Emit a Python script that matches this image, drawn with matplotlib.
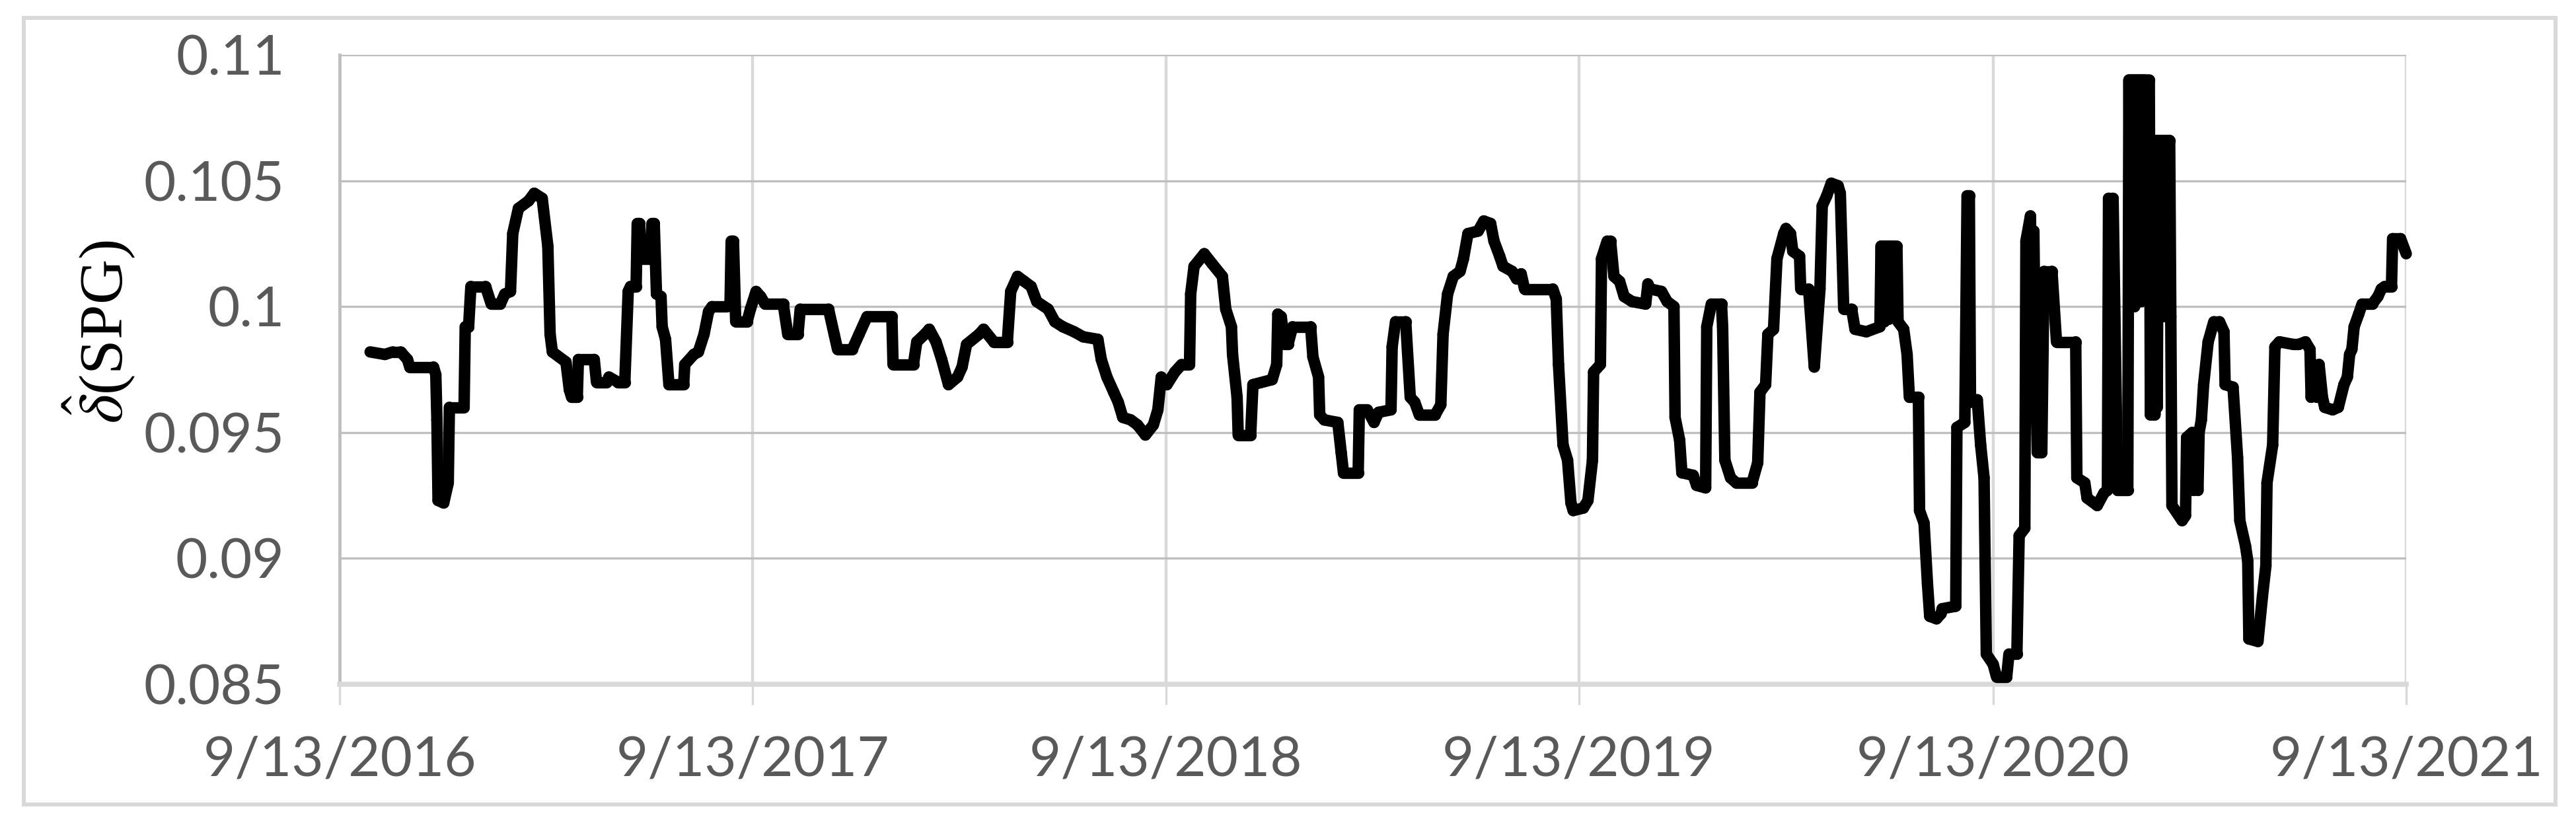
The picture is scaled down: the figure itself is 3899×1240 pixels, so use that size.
import matplotlib
matplotlib.use("Agg")
import matplotlib.pyplot as plt
import matplotlib.dates as mdates
from matplotlib.collections import LineCollection
from matplotlib.patches import Rectangle
import numpy as np
import pandas as pd

plt.rcParams['mathtext.fontset'] = 'stix'
plt.rcParams['path.simplify'] = False

# ---- data ----
start_date = "2016-09-13"
# days since 2016-09-13
day_offsets = [
    27, 40, 47, 54, 60, 62, 83, 85, 86, 87, 92, 96, 97, 110, 111, 114, 116, 129, 134, 142,
    146, 151, 153, 158, 167, 172, 179, 184, 186, 188, 200, 203, 205, 210, 211, 225, 227, 236, 238, 246,
    252, 255, 257, 262, 263, 265, 266, 274, 276, 278, 280, 284, 285, 288, 291, 304, 305, 313, 317, 322,
    326, 329, 342, 345, 346, 348, 350, 360, 363, 368, 372, 376, 392, 396, 405, 407, 432, 437, 440, 453,
    459, 466, 488, 489, 507, 510, 517, 521, 527, 532, 538, 546, 550, 554, 565, 569, 578, 590, 593, 599,
    605, 611, 616, 626, 632, 639, 649, 657, 670, 673, 678, 684, 688, 692, 699, 705, 712, 719, 723, 726,
    731, 738, 744, 751, 752, 755, 764, 771, 780, 783, 788, 789, 793, 794, 805, 807, 824, 828, 829, 832,
    835, 838, 842, 858, 860, 865, 866, 870, 882, 885, 887, 900, 901, 908, 914, 918, 929, 930, 933, 942,
    946, 950, 954, 968, 973, 975, 979, 984, 990, 993, 997, 1006, 1011, 1017, 1020, 1025, 1028, 1036, 1040, 1044,
    1047, 1072, 1075, 1077, 1081, 1085, 1088, 1090, 1099, 1103, 1107, 1108, 1114, 1115, 1120, 1123, 1126, 1131, 1135, 1142,
    1154, 1156, 1158, 1168, 1173, 1179, 1180, 1184, 1186, 1196, 1199, 1207, 1208, 1212, 1221, 1222, 1224, 1229, 1234, 1248,
    1253, 1255, 1260, 1262, 1267, 1270, 1276, 1278, 1282, 1284, 1290, 1291, 1298, 1303, 1308, 1310, 1314, 1318, 1324, 1326,
    1329, 1336, 1339, 1349, 1361,
    1362, 1363, 1364, 1365, 1366, 1367, 1368, 1369, 1370, 1371, 1372, 1373, 1374, 1376,
    1377, 1382, 1385, 1387, 1395, 1396, 1400,
    1403, 1405, 1411, 1415, 1416, 1428, 1429, 1436, 1438, 1440, 1441, 1447, 1450, 1453, 1455, 1461, 1464, 1473, 1475, 1482,
    1484, 1489, 1490, 1494, 1495, 1497, 1498, 1500, 1504, 1506, 1513, 1517, 1534, 1535, 1542, 1544, 1553, 1559, 1562, 1563, 1567,
    1571, 1580,
    1581, 1582, 1583, 1584, 1585, 1586, 1587, 1588, 1589, 1590, 1591, 1592, 1593, 1594, 1595, 1596, 1597, 1599,
    1600, 1601, 1602, 1603, 1604, 1605, 1606, 1607, 1608, 1610, 1611, 1613, 1614, 1616, 1617, 1618,
    1619, 1628, 1631, 1632,
    1637, 1638, 1639, 1642, 1643, 1645, 1647, 1651, 1656, 1661, 1665, 1666, 1673, 1677, 1679, 1684, 1686, 1687, 1695, 1699,
    1702, 1703, 1708, 1710, 1714, 1726, 1731, 1737, 1741, 1742, 1744, 1747, 1749, 1752, 1754, 1761, 1766, 1771, 1774, 1776,
    1778, 1780, 1784, 1787, 1796, 1801, 1804, 1807, 1813, 1814, 1821, 1826,
]
delta_spg = [
    0.0982, 0.0981, 0.0982, 0.0982, 0.0979, 0.0976, 0.0976, 0.0973, 0.0955, 0.0923, 0.0922, 0.0930, 0.0960, 0.0960, 0.0992, 0.0992, 0.1008, 0.1008, 0.1001, 0.1001,
    0.1005, 0.1006, 0.1029, 0.1039, 0.1042, 0.1045, 0.1043, 0.1024, 0.0989, 0.0982, 0.0978, 0.0967, 0.0964, 0.0964, 0.0979, 0.0979, 0.0970, 0.0970, 0.0972, 0.0970,
    0.0970, 0.1006, 0.1008, 0.1008, 0.1033, 0.1033, 0.1019, 0.1019, 0.1033, 0.1033, 0.1005, 0.1004, 0.0992, 0.0987, 0.0969, 0.0969, 0.0977, 0.0981, 0.0982, 0.0989,
    0.0998, 0.1000, 0.1000, 0.1001, 0.1026, 0.1026, 0.0994, 0.0994, 0.0999, 0.1006, 0.1004, 0.1001, 0.1001, 0.0989, 0.0989, 0.0999, 0.0999, 0.0989, 0.0983, 0.0983,
    0.0989, 0.0996, 0.0996, 0.0977, 0.0977, 0.0986, 0.0989, 0.0991, 0.0986, 0.0979, 0.0969, 0.0972, 0.0976, 0.0985, 0.0989, 0.0991, 0.0986, 0.0986, 0.1006, 0.1012,
    0.1010, 0.1008, 0.1002, 0.0999, 0.0994, 0.0992, 0.0990, 0.0988, 0.0987, 0.0979, 0.0972, 0.0966, 0.0962, 0.0956, 0.0955, 0.0953, 0.0949, 0.0953, 0.0959, 0.0972,
    0.0969, 0.0974, 0.0977, 0.0977, 0.1005, 0.1016, 0.1021, 0.1017, 0.1012, 0.0999, 0.0992, 0.0981, 0.0964, 0.0949, 0.0949, 0.0969, 0.0971, 0.0977, 0.0997, 0.0996,
    0.0985, 0.0985, 0.0992, 0.0992, 0.0980, 0.0972, 0.0957, 0.0955, 0.0954, 0.0942, 0.0934, 0.0934, 0.0959, 0.0959, 0.0954, 0.0958, 0.0959, 0.0984, 0.0994, 0.0994,
    0.0964, 0.0962, 0.0957, 0.0957, 0.0961, 0.0989, 0.1005, 0.1012, 0.1014, 0.1019, 0.1029, 0.1030, 0.1034, 0.1033, 0.1026, 0.1020, 0.1016, 0.1014, 0.1011, 0.1013,
    0.1007, 0.1007, 0.1003, 0.0977, 0.0945, 0.0939, 0.0922, 0.0919, 0.0920, 0.0923, 0.0939, 0.0974, 0.0977, 0.1019, 0.1026, 0.1026, 0.1012, 0.1010, 0.1004, 0.1002,
    0.1001, 0.1009, 0.1007, 0.1006, 0.1002, 0.1000, 0.0956, 0.0947, 0.0934, 0.0933, 0.0929, 0.0928, 0.0992, 0.1001, 0.1001, 0.0992, 0.0939, 0.0932, 0.0930, 0.0930,
    0.0938, 0.0966, 0.0969, 0.0989, 0.0991, 0.1019, 0.1029, 0.1031, 0.1029, 0.1022, 0.1020, 0.1007, 0.1007, 0.0976, 0.1007, 0.1040, 0.1044, 0.1049, 0.1048, 0.1045,
    0.0999, 0.0999, 0.0991, 0.0990, 0.0992,
    0.1024, 0.0994, 0.1024, 0.0994, 0.1024, 0.0995, 0.1024, 0.0995, 0.1024, 0.0996, 0.1024, 0.0996, 0.1024, 0.1024,
    0.0994, 0.0991, 0.0981, 0.0964, 0.0964, 0.0919, 0.0914,
    0.0890, 0.0877, 0.0876, 0.0878, 0.0880, 0.0881, 0.0952, 0.0954, 0.1044, 0.1044, 0.0962, 0.0963, 0.0945, 0.0932, 0.0862, 0.0858, 0.0853, 0.0853, 0.0862, 0.0862,
    0.0909, 0.0912, 0.1026, 0.1036, 0.0998, 0.1030, 0.0990, 0.0942, 0.0942, 0.1014, 0.1014, 0.0986, 0.0986, 0.0932, 0.0930, 0.0924, 0.0921, 0.0926, 0.0927, 0.1043, 0.1043,
    0.0927, 0.0927,
    0.1090, 0.1002, 0.1090, 0.1002, 0.1090, 0.1000, 0.1090, 0.1002, 0.1090, 0.1002, 0.1090, 0.1002, 0.1090, 0.1003, 0.1090, 0.1003, 0.1090, 0.1090,
    0.0957, 0.1000, 0.0957, 0.1066, 0.0957, 0.1066, 0.0960, 0.1066, 0.0996, 0.1066, 0.0996, 0.1066, 0.0996, 0.1066, 0.1066, 0.0996,
    0.0921, 0.0915, 0.0917, 0.0948,
    0.0950, 0.0927, 0.0948, 0.0927, 0.0950, 0.0955, 0.0969, 0.0986, 0.0994, 0.0994, 0.0990, 0.0969, 0.0968, 0.0940, 0.0915, 0.0905, 0.0899, 0.0868, 0.0867, 0.0885,
    0.0897, 0.0930, 0.0945, 0.0984, 0.0986, 0.0985, 0.0985, 0.0986, 0.0983, 0.0964, 0.0977, 0.0964, 0.0977, 0.0964, 0.0960, 0.0959, 0.0960, 0.0969, 0.0972, 0.0981,
    0.0983, 0.0992, 0.0997, 0.1001, 0.1001, 0.1004, 0.1007, 0.1008, 0.1008, 0.1027, 0.1027, 0.1021,
]
assert len(day_offsets) == len(delta_spg), (len(day_offsets), len(delta_spg))

x_tick_labels = ["9/13/2016", "9/13/2017", "9/13/2018", "9/13/2019", "9/13/2020", "9/13/2021"]
y_ticks = [0.085, 0.09, 0.095, 0.1, 0.105, 0.11]
y_tick_labels = ["0.085", "0.09", "0.095", "0.1", "0.105", "0.11"]
y_label = r"$\hat{\delta}$(SPG)"

# ---- figure ----
W, H = 3899, 1240
fig = plt.figure(figsize=(W / 100, H / 100), dpi=100)
fig.patch.set_facecolor("white")

L, R, T, B = 514, 3642, 83, 1036
ax = fig.add_axes([L / W, 1 - B / H, (R - L) / W, (B - T) / H])

dates = pd.Timestamp(start_date) + pd.to_timedelta(day_offsets, unit="D")
xnum = mdates.date2num(dates.to_pydatetime())
yv = np.asarray(delta_spg)
pts = np.column_stack([xnum, yv])
segments = np.stack([pts[:-1], pts[1:]], axis=1)
lc = LineCollection(segments, colors="black", linewidths=12.5, capstyle="round",
                    joinstyle="round", zorder=3, clip_on=False)
ax.add_collection(lc)
ax.xaxis_date()

tick_dates = pd.to_datetime(x_tick_labels, format="%m/%d/%Y")
ax.set_xlim(tick_dates[0], tick_dates[-1])
ax.set_ylim(0.085, 0.11)
ax.set_xticks(tick_dates)
ax.set_xticklabels(x_tick_labels)
ax.set_yticks(y_ticks)
ax.set_yticklabels(y_tick_labels)

for lab in ax.get_xticklabels() + ax.get_yticklabels():
    lab.set_fontfamily("Lato")
    lab.set_fontsize(60)
    lab.set_color("#595959")

ax.tick_params(axis="y", length=0, pad=60)
ax.tick_params(axis="x", length=22, width=2.5, color="#d9d9d9", pad=34)

ax.grid(axis="y", color="#bfbfbf", lw=2.4, zorder=1)
ax.grid(axis="x", color="#d9d9d9", lw=3.2, zorder=1)
ax.set_axisbelow(True)

for s in ["top", "right"]:
    ax.spines[s].set_visible(False)
ax.spines["left"].set_color("#bfbfbf")
ax.spines["left"].set_linewidth(3.5)
ax.spines["bottom"].set_color("#d9d9d9")
ax.spines["bottom"].set_linewidth(5.5)

fig.text(150 / W, 1 - 502 / H, y_label, rotation=90, ha="center", va="center",
         fontsize=68, family="Liberation Serif", color="black")

# outer chart border
fig.patches.append(Rectangle((36 / W, 1 - 1218 / H), (3868 - 36) / W, (1218 - 27) / H,
                             transform=fig.transFigure, fill=False,
                             edgecolor="#d9d9d9", lw=4.3, zorder=0))

fig.savefig("out.png", dpi=100)
